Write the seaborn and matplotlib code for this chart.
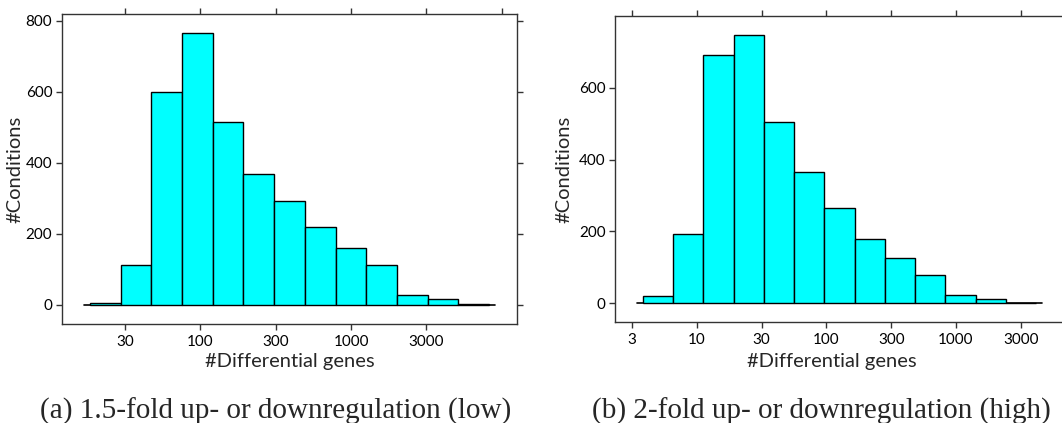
import numpy as np
import pandas as pd
import matplotlib
matplotlib.use("Agg")
import matplotlib.pyplot as plt
import seaborn as sns

# histogram counts, 13 equal bins on log10(#genes)
low_counts = [6, 113, 600, 766, 516, 369, 292, 219, 161, 112, 28, 16, 3]
low_range = (1.269, 3.915)      # log10 of min / max differential genes
high_counts = [20, 194, 690, 748, 505, 366, 264, 178, 125, 80, 22, 11, 1]
high_range = (0.584, 3.619)

low_ticks = ["30", "100", "300", "1000", "3000"]
high_ticks = ["3", "10", "30", "100", "300", "1000", "3000"]

low_yticks = [0, 200, 400, 600, 800]
high_yticks = [0, 200, 400, 600]

captions = ["(a) 1.5-fold up- or downregulation (low)",
            "(b) 2-fold up- or downregulation (high)"]

sns.set_style("ticks")
plt.rcParams["font.family"] = ["Lato", "DejaVu Sans"]
plt.rcParams["axes.edgecolor"] = "#333333"
plt.rcParams["xtick.color"] = "#333333"
plt.rcParams["ytick.color"] = "#333333"
plt.rcParams["xtick.labelcolor"] = "black"
plt.rcParams["ytick.labelcolor"] = "black"

fig = plt.figure(figsize=(10.62, 4.23), dpi=100)
ax1 = fig.add_axes([0.0584, 0.234, 0.4284, 0.7329])
ax2 = fig.add_axes([0.5794, 0.2383, 0.4223, 0.7246])


def draw_hist(ax, counts, rng, tick_labels, yticks, xlab_pos, ylab_x):
    lo, hi = rng
    edges = np.linspace(lo, hi, len(counts) + 1).tolist()
    df = pd.DataFrame({"genes": [(a + b) / 2 for a, b in zip(edges[:-1], edges[1:])],
                       "n": counts})
    sns.histplot(data=df, x="genes", weights="n", bins=edges, ax=ax,
                 color="#00FFFF", edgecolor="black", linewidth=1.0, alpha=1)
    width = hi - lo
    ax.plot([lo - 0.014 * width, hi + 0.014 * width], [0, 0],
            color="black", lw=1.2, zorder=0.5)
    ax.set_xlim(lo - 0.07 * width, hi + 0.07 * width)
    top = max(counts)
    ax.set_ylim(-0.07 * top, 1.07 * top)

    # ticks at half-decade positions, labelled with rounded numbers
    first = round(np.log10(float(tick_labels[0])) * 2) / 2
    pos = first + 0.5 * np.arange(len(tick_labels))
    ax.set_xticks(pos)
    ax.set_xticklabels(tick_labels)
    ax.set_yticks(yticks)
    ax.tick_params(axis="both", direction="out", length=4, width=1,
                   labelsize=11, pad=3)
    ax.tick_params(axis="x", pad=4)

    # top ticks (no labels), running one step further like the original
    sec = ax.secondary_xaxis("top")
    sec.set_xticks(np.append(pos, pos[-1] + 0.5))
    sec.set_xticklabels([])
    sec.tick_params(direction="out", length=4, width=1, color="#333333")
    sec.spines["top"].set_visible(False)
    ax.yaxis.set_ticks_position("both")
    ax.tick_params(axis="y", right=True, labelright=False)

    for s in ax.spines.values():
        s.set_linewidth(1.0)

    ax.set_xlabel("#Differential genes", fontsize=14.5)
    ax.set_ylabel("#Conditions", fontsize=14.5)
    ax.xaxis.set_label_coords(*xlab_pos)
    ax.yaxis.set_label_coords(ylab_x, 0.5)


draw_hist(ax1, low_counts, low_range, low_ticks, low_yticks, (0.5, -0.094), -0.085)
draw_hist(ax2, high_counts, high_range, high_ticks, high_yticks, (0.483, -0.1), -0.095)

fig.text(0.26, 0.011, captions[0], ha="center", va="baseline",
         fontsize=21, family="Liberation Serif")
fig.text(0.773, 0.011, captions[1], ha="center", va="baseline",
         fontsize=21, family="Liberation Serif")

fig.savefig("out.png", dpi=100)
